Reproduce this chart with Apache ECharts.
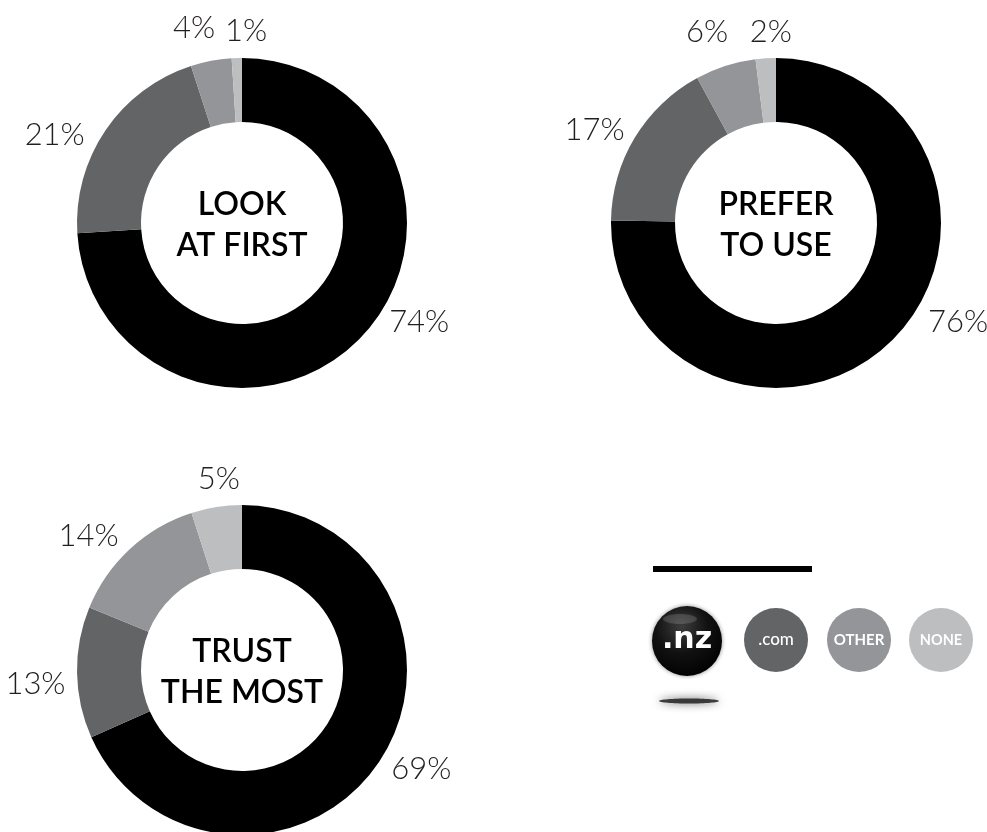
<!DOCTYPE html>
<html>
<head>
<meta charset="utf-8">
<title>Domain preference donuts</title>
<script src="https://cdn.jsdelivr.net/npm/echarts@6/dist/echarts.min.js"></script>
<style>
  html, body { margin: 0; padding: 0; background: #ffffff; }
  #chart { width: 987px; height: 832px; }
</style>
</head>
<body>
<div id="chart"></div>
<script>
// Answer categories (slice order, clockwise from 12 o'clock)
const categories = ['.nz', '.com', 'OTHER', 'NONE'];

// Donut titles
const titles = ['LOOK\nAT FIRST', 'PREFER\nTO USE', 'TRUST\nTHE MOST'];

// Share of respondents (%) per category
const lookAtFirst = [74, 21, 4, 1];
const preferToUse = [76, 17, 6, 2];
const trustTheMost = [69, 13, 14, 5];

const seriesValues = [lookAtFirst, preferToUse, trustTheMost];

// Styling / layout
const sliceColors = ['#000000', '#636466', '#939598', '#bcbec0'];
const centers = [[242, 223], [776, 223], [242, 670]];
const innerR = 101, outerR = 165;

// Percentage label placement: angle nudge (deg) from slice mid-angle, and distance from centre
const labelPlacement = [
  [[-14, 203], [-9, 207], [-3, 201], [3, 192]],
  [[-17, 207], [-4, 204], [-2, 203], [2, 191]],
  [[-4, 205], [-3, 207], [-6, 204], [2, 192]]
];

const THIN = '"Lato", "Open Sans", sans-serif';

function labelPos(si, di) {
  const vals = seriesValues[si];
  const total = vals.reduce((a, b) => a + b, 0);
  let before = 0;
  for (let k = 0; k < di; k++) before += vals[k];
  const mid = (before + vals[di] / 2) / total * 360;
  const [nudge, dist] = labelPlacement[si][di];
  const a = (mid + nudge) * Math.PI / 180;
  const [cx, cy] = centers[si];
  return { x: cx + dist * Math.sin(a), y: cy - dist * Math.cos(a) };
}

const series = seriesValues.map((vals, si) => ({
  type: 'pie',
  center: centers[si],
  radius: [innerR, outerR],
  startAngle: 90,
  clockwise: true,
  silent: true,
  animation: false,
  avoidLabelOverlap: false,
  itemStyle: { borderWidth: 0 },
  label: {
    show: true,
    position: 'outside',
    formatter: '{c}%',
    fontFamily: THIN,
    fontWeight: 300,
    fontSize: 31,
    color: '#231f20'
  },
  labelLine: { show: false },
  labelLayout: function (p) {
    const pos = labelPos(si, p.dataIndex);
    return { x: pos.x, y: pos.y, align: 'center', verticalAlign: 'middle' };
  },
  emphasis: { disabled: true },
  data: vals.map((v, di) => ({
    name: categories[di],
    value: v,
    itemStyle: { color: sliceColors[di] }
  }))
}));

// Centre titles
const graphics = titles.map((t, i) => ({
  type: 'text',
  x: centers[i][0],
  y: centers[i][1] + 2,
  silent: true,
  style: {
    text: t,
    align: 'center',
    verticalAlign: 'middle',
    font: '600 32px "Lato", "Noto Sans", sans-serif',
    lineHeight: 41,
    fill: '#000000'
  }
}));

// Legend: rule + category bubbles
graphics.push({
  type: 'rect',
  shape: { x: 653, y: 566, width: 159, height: 6 },
  style: { fill: '#000000' },
  silent: true
});

// shadow under the .nz ball
graphics.push({
  type: 'ellipse',
  shape: { cx: 689, cy: 701, rx: 30, ry: 2.5 },
  style: { fill: '#2a2a2a', shadowBlur: 8, shadowColor: 'rgba(0,0,0,0.7)', opacity: 0.9 },
  silent: true
});

// .nz glossy ball
graphics.push({
  type: 'circle',
  shape: { cx: 687, cy: 641, r: 35 },
  style: {
    fill: {
      type: 'radial', x: 0.42, y: 0.3, r: 0.75,
      colorStops: [
        { offset: 0, color: '#3c3c3c' },
        { offset: 0.5, color: '#111111' },
        { offset: 1, color: '#000000' }
      ]
    },
    shadowBlur: 4,
    shadowColor: 'rgba(0,0,0,0.45)'
  },
  silent: true
});
graphics.push({
  type: 'ellipse',
  shape: { cx: 680, cy: 619, rx: 17, ry: 5 },
  style: { fill: 'rgba(255,255,255,0.14)', shadowBlur: 3, shadowColor: 'rgba(255,255,255,0.2)' },
  silent: true
});
graphics.push({
  type: 'text',
  x: 687, y: 640,
  silent: true,
  style: {
    text: categories[0],
    align: 'center',
    verticalAlign: 'middle',
    font: 'bold 30px "DejaVu Sans", sans-serif',
    fill: '#ffffff'
  }
});

const legendCenters = [null, [776, 640], [859, 640], [941, 640]];
const legendFont = [null, '500 17px', 'bold 15px', 'bold 14.5px'];
for (let k = 1; k < categories.length; k++) {
  graphics.push({
    type: 'circle',
    shape: { cx: legendCenters[k][0], cy: legendCenters[k][1], r: 32 },
    style: { fill: sliceColors[k] },
    silent: true
  });
  graphics.push({
    type: 'text',
    x: legendCenters[k][0], y: legendCenters[k][1],
    silent: true,
    style: {
      text: categories[k],
      align: 'center',
      verticalAlign: 'middle',
      font: legendFont[k] + ' "Lato", "Open Sans", sans-serif',
      fill: '#ffffff'
    }
  });
}

const chart = echarts.init(document.getElementById('chart'), null, { renderer: 'canvas' });
chart.setOption({
  backgroundColor: '#ffffff',
  animation: false,
  tooltip: { show: false },
  series: series,
  graphic: { elements: graphics }
});
</script>
</body>
</html>
